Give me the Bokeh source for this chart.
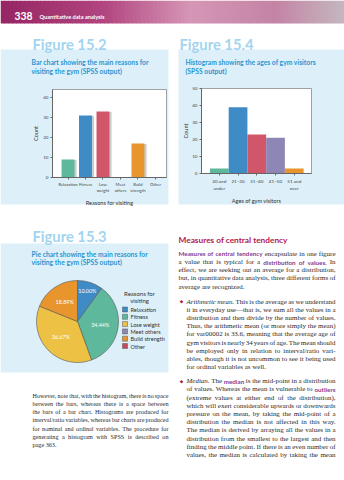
import os, glob
import numpy as np
from PIL import ImageFont
from bokeh.plotting import figure
from bokeh.models import Range1d, FixedTicker, LinearAxis
from bokeh.core.properties import value
from bokeh.embed import file_html
from bokeh.resources import INLINE

# ---------------- data ----------------
reasons = ["Relaxation", "Fitness", "Lose weight", "Meet others", "Build strength", "Other"]
reason_counts = [9, 31, 33, 0, 17, 0]
bar_colors = ["#5DB89C", "#3F8BC5", "#D2566A", "#8E86B5", "#E8952E", "#C9485E"]
bar_ticks = [0, 10, 20, 30, 40]

age_groups = ["20 and under", "21–30", "31–40", "41–50", "51 and over"]
age_counts = [3, 39, 23, 21, 3]
hist_colors = ["#5DB89C", "#3F8BC5", "#D2566A", "#8E86B5", "#E8952E"]
hist_ticks = [0, 10, 20, 30, 40, 50]

pie_colors = ["#3F8BC5", "#5DB89C", "#EDC244", "#8E86B5", "#E8952E", "#C9485E"]

page_no = "338"
running_head = "Quantitative data analysis"
fig_titles = ["Figure 15.2", "Figure 15.3", "Figure 15.4"]
bar_sub = ["Bar chart showing the main reasons for", "visiting the gym (SPSS output)"]
pie_sub = ["Pie chart showing the main reasons for", "visiting the gym (SPSS output)"]
hist_sub = ["Histogram showing the ages of gym visitors", "(SPSS output)"]
bar_xlabel = "Reasons for visiting"
hist_xlabel = "Ages of gym visitors"
count_label = "Count"
legend_title = ["Reasons for", "visiting"]
heading = "Measures of central tendency"

left_par = [
    "However, note that, with the histogram, there is no space",
    "between the bars, whereas there is a space between",
    "the bars of a bar chart. Histograms are produced for",
    "interval/ratio variables, whereas bar charts are produced",
    "for nominal and ordinal variables. The procedure for",
    "generating a histogram with SPSS is described on",
    "page 363.",
]
intro_par = [
    [("Measures of central tendency", "key"), ("encapsulate in one figure", "body")],
    [("a value that is typical for a", "body"), ("distribution of values.", "key"), ("In", "body")],
    "effect, we are seeking out an average for a distribution,",
    "but, in quantitative data analysis, three different forms of",
    "average are recognized.",
]
mean_par = [
    [("Arithmetic mean.", "ital"), ("This is the average as we understand", "body")],
    "it in everyday use—that is, we sum all the values in a",
    "distribution and then divide by the number of values.",
    "Thus, the arithmetic mean (or more simply the mean)",
    "for var00002 is 33.6, meaning that the average age of",
    "gym visitors is nearly 34 years of age. The mean should",
    "be employed only in relation to interval/ratio vari-",
    "ables, though it is not uncommon to see it being used",
    "for ordinal variables as well.",
]
median_par = [
    [("Median.", "ital"), ("The", "body"), ("median", "key"), ("is the mid-point in a distribution", "body")],
    [("of values. Whereas the mean is vulnerable to", "body"), ("outliers", "key")],
    "(extreme values at either end of the distribution),",
    "which will exert considerable upwards or downwards",
    "pressure on the mean, by taking the mid-point of a",
    "distribution the median is not affected in this way.",
    "The median is derived by arraying all the values in a",
    "distribution from the smallest to the largest and then",
    "finding the middle point. If there is an even number of",
    "values, the median is calculated by taking the mean",
]

# ---------------- styles ----------------
PW, PH = 344, 480
PANEL = "#DDF0FA"
TITLE_C = "#A3D4EF"
SUB_C = "#2995D0"
HEAD_C = "#B2184E"
KEY_C = "#8B3A8E"
BODY_C = "#2A2A2A"
AX_C = "#666666"

_fc = {}
def _font(fname):
    if fname not in _fc:
        path = None
        for root in ("/usr/share/fonts", "/usr/local/share/fonts",
                     os.path.expanduser("~/.fonts"), os.path.expanduser("~/.local/share/fonts")):
            hits = glob.glob(os.path.join(root, "**", fname), recursive=True)
            if hits:
                path = hits[0]
                break
        try:
            _fc[fname] = ImageFont.truetype(path, 200) if path else None
        except Exception:
            _fc[fname] = None
    return _fc[fname]

def text_w(s, fname, size, avg=0.5):
    f = _font(fname)
    if f is None:
        return len(s) * avg * size
    return f.getlength(s) * size / 200.0

ST = {
    "body": ("Liberation Serif", "normal", "LiberationSerif-Regular.ttf", 1.0, BODY_C, 0.45),
    "ital": ("Liberation Serif", "italic", "LiberationSerif-Italic.ttf", 1.0, BODY_C, 0.43),
    "key": ("Lato", "bold", "Lato-Bold.ttf", 0.9, KEY_C, 0.52),
}

def toks_of(line):
    segs = [(line, "body")] if isinstance(line, str) else line
    return [(w, st) for txt, st in segs for w in txt.split()]

def word_w(w, st, size):
    fam, sty, fn, sc, col, avg = ST[st]
    return text_w(w, fn, size * sc, avg)

def nat_w(toks, size):
    return sum(word_w(w, st, size) for w, st in toks) + (len(toks) - 1) * word_w(" ", "body", size)

def fit_body(blocks):
    ratios = []
    for lines, W, jl in blocks:
        for i, ln in enumerate(lines):
            if i == len(lines) - 1 and not jl:
                continue
            ratios.append(W / nat_w(toks_of(ln), 1.0))
    return float(np.percentile(ratios, 25))

def fit_size(s, fname, target, avg=0.5):
    return target / text_w(s, fname, 1.0, avg)

# ---------------- page figure ----------------
p = figure(width=PW, height=PH, x_range=Range1d(0, PW), y_range=Range1d(PH, 0),
           x_axis_location=None, y_axis_location=None, toolbar_location=None,
           output_backend="svg", min_border=0, outline_line_color=None,
           background_fill_color="white", border_fill_color="white")
p.grid.visible = False

def draw_block(lines, x0, W, ys, size, justify_last=False):
    groups = {}
    sp = word_w(" ", "body", size)
    for i, (ln, y) in enumerate(zip(lines, ys)):
        toks = toks_of(ln)
        ws = [word_w(w, st, size) for w, st in toks]
        last = i == len(lines) - 1
        if (not last or justify_last) and len(toks) > 1:
            gap = max((W - sum(ws)) / (len(toks) - 1), 0.35 * sp)
        else:
            gap = sp
        x = x0
        for (w, st), wd in zip(toks, ws):
            g = groups.setdefault(st, {"x": [], "y": [], "t": []})
            g["x"].append(x); g["y"].append(y); g["t"].append(w)
            x += wd + gap
    for st, g in groups.items():
        fam, sty, fn, sc, col, avg = ST[st]
        p.text(x=g["x"], y=g["y"], text=g["t"], text_font=value(fam), text_font_style=sty,
               text_font_size=f"{size * sc:.2f}px", text_color=col,
               text_baseline="middle", text_align="left")

def label(x, y, s, size, color, font="Lato", style="bold", align="left"):
    p.text(x=[x], y=[y], text=[s], text_font=value(font), text_font_style=style,
           text_font_size=f"{size:.2f}px", text_color=color, text_baseline="middle", text_align=align)

def two_line(s):
    parts = s.rsplit(" ", 1)
    return s if len(parts) == 1 else parts[0] + "\n" + parts[1]

def chart_ranges(name, box, xlim, ylim):
    l, t, r, b = box
    kx = (r - l) / (xlim[1] - xlim[0])
    xs = xlim[0] - l / kx
    p.extra_x_ranges[name + "_x"] = Range1d(xs, xs + PW / kx)
    ky = (b - t) / (ylim[1] - ylim[0])
    p.extra_y_ranges[name + "_y"] = Range1d(ylim[0] - (PH - b) / ky, ylim[1] + t / ky)
    p.quad(left=xlim[0], right=xlim[1], bottom=ylim[0], top=ylim[1],
           x_range_name=name + "_x", y_range_name=name + "_y",
           fill_color="white", line_color="#8A8A8A", line_width=0.8)

def style_axis(ax, label_standoff, tick_size):
    ax.axis_line_color = AX_C
    ax.major_tick_line_color = AX_C
    ax.minor_tick_line_color = None
    ax.major_tick_in = 0
    ax.major_tick_out = 2
    ax.major_label_text_font = "Lato"
    ax.major_label_text_font_size = tick_size
    ax.major_label_text_color = "#444444"
    ax.major_label_standoff = 2
    ax.axis_label_text_font = "Lato"
    ax.axis_label_text_font_size = "5.6px"
    ax.axis_label_text_font_style = "normal"
    ax.axis_label_text_color = "#333333"
    ax.axis_label_standoff = label_standoff

def chart_axes(name, box, xlim, ylim, xticks, labels, yticks, xlabel, ylabel, ystand, xsize):
    l, t, r, b = box
    ya = LinearAxis(y_range_name=name + "_y", fixed_location=l, bounds=tuple(ylim),
                    ticker=FixedTicker(ticks=yticks), axis_label=ylabel)
    style_axis(ya, ystand, "4.6px")
    p.add_layout(ya, "left")
    xa = LinearAxis(x_range_name=name + "_x", fixed_location=b, bounds=tuple(xlim),
                    ticker=FixedTicker(ticks=xticks), axis_label=xlabel,
                    major_label_overrides={i: two_line(s) for i, s in enumerate(labels)})
    style_axis(xa, 3, xsize)
    p.add_layout(xa, "below")

# ---------------- header ----------------
stops = [(0.0, (150, 38, 100)), (0.3, (178, 70, 128)), (0.55, (214, 150, 182)),
         (0.8, (196, 132, 165)), (1.0, (196, 184, 192))]
hx = np.linspace(0, PW, 87)
hcols = []
for a, b in zip(hx[:-1], hx[1:]):
    u = (a + b) / 2 / PW
    for (u0, c0), (u1, c1) in zip(stops[:-1], stops[1:]):
        if u0 <= u <= u1:
            k = (u - u0) / (u1 - u0)
            hcols.append("#%02x%02x%02x" % tuple(int(c0[j] + (c1[j] - c0[j]) * k) for j in range(3)))
            break
p.quad(left=hx[:-1], right=hx[1:] + 0.5, top=0, bottom=23, color=hcols, line_color=None)
label(14, 15.5, page_no, fit_size(page_no, "Lato-Bold.ttf", 18), "white")
label(39, 16, running_head, fit_size(running_head, "Lato-Bold.ttf", 65), "white")

# ---------------- panels & titles ----------------
p.quad(left=[0, 178, 0], right=[168, PW, 168], top=[49, 49, 243], bottom=[204, 204, 372],
       color=PANEL, line_color=None)
TSIZE = fit_size(fig_titles[0], "Lato-Bold.ttf", 74)
SSIZE = fit_size(bar_sub[0], "Lato-Bold.ttf", 117)
label(32, 43.5, fig_titles[0], TSIZE, TITLE_C)
label(32, 235, fig_titles[1], TSIZE, TITLE_C)
label(179, 43.5, fig_titles[2], TSIZE, TITLE_C)
label(31, 61.5, bar_sub[0], SSIZE, SUB_C)
label(31, 70, bar_sub[1], SSIZE, SUB_C)
label(185, 61.5, hist_sub[0], SSIZE, SUB_C)
label(185, 70, hist_sub[1], SSIZE, SUB_C)
label(31, 253.3, pie_sub[0], SSIZE, SUB_C)
label(31, 261.7, pie_sub[1], SSIZE, SUB_C)

# ---------------- bar chart ----------------
BBOX = (52, 89, 166, 177)
BX, BY = (-0.886, 5.63), (0, 44)
chart_ranges("bar", BBOX, BX, BY)
idx = list(range(len(reasons)))
p.vbar(x=[i + 0.12 for i in idx], top=[max(c - 0.3, 0) for c in reason_counts], width=0.74,
       color="#C8CCD0", line_color=None, x_range_name="bar_x", y_range_name="bar_y")
p.vbar(x=idx, top=reason_counts, width=0.74, color=bar_colors, line_color=None,
       x_range_name="bar_x", y_range_name="bar_y")
chart_axes("bar", BBOX, BX, BY, idx, reasons, bar_ticks, bar_xlabel, count_label, 1, "4.2px")

# ---------------- histogram ----------------
HBOX = (201, 88, 311, 173)
HX, HY = (-0.95, 4.92), (0, 50)
chart_ranges("hist", HBOX, HX, HY)
hidx = list(range(len(age_groups)))
p.vbar(x=hidx, top=age_counts, width=1.0, color=hist_colors, line_color=None,
       x_range_name="hist_x", y_range_name="hist_y")
chart_axes("hist", HBOX, HX, HY, hidx, age_groups, hist_ticks, hist_xlabel, count_label, 0, "4.6px")

# ---------------- pie ----------------
p.extra_y_ranges["up"] = Range1d(0, PH)
CX, CY, R = 77, PH - 321, 41
total = float(sum(reason_counts))
fr = np.array(reason_counts) / total
cum = np.concatenate([[0], np.cumsum(fr)])
nz = [i for i in idx if reason_counts[i] > 0]
p.wedge(x=CX, y=CY, radius=R, direction="clock",
        start_angle=[np.pi / 2 - 2 * np.pi * cum[i] for i in nz],
        end_angle=[np.pi / 2 - 2 * np.pi * cum[i + 1] for i in nz],
        fill_color=[pie_colors[i] for i in nz], line_color="#555555", line_width=0.6,
        y_range_name="up")
lx, ly, lt = [], [], []
for i in nz:
    mid = np.pi / 2 - 2 * np.pi * (cum[i] + fr[i] / 2)
    rr = R * (0.78 if fr[i] < 0.15 else 0.56)
    lx.append(CX + rr * np.cos(mid)); ly.append(CY + rr * np.sin(mid))
    lt.append(f"{100 * fr[i]:.2f}%")
p.text(x=lx, y=ly, text=lt, text_font=value("Lato"), text_font_size="5.4px", y_range_name="up",
       text_color="white", text_align="center", text_baseline="middle")

# legend (swatches + labels from the category / colour arrays)
leg_y = [309 + 7.3 * i for i in range(len(reasons))]
p.rect(x=124.5, y=leg_y, width=5, height=5, fill_color=pie_colors,
       line_color="#555555", line_width=0.5)
p.text(x=130, y=leg_y, text=reasons, text_font=value("Lato"), text_font_size="5.6px",
       text_color="#333333", text_align="left", text_baseline="middle")
p.text(x=[139, 139], y=[293, 300], text=legend_title, text_font=value("Lato"),
       text_font_size="6px", text_color="#333333", text_align="center", text_baseline="middle")

# ---------------- body text ----------------
LFS = fit_body([(left_par, 136, False)])
draw_block(left_par, 32, 136, [395 + 8.33 * i for i in range(len(left_par))], LFS)

label(178, 239.3, heading, fit_size(heading, "Lato-Bold.ttf", 109), HEAD_C)
RFS = fit_body([(intro_par, 157, False), (mean_par, 149, False), (median_par, 149, True)])
STEP = 8.2
y_intro = [253.3 + STEP * i for i in range(len(intro_par))]
y_mean = [301 + STEP * i for i in range(len(mean_par))]
y_med = [380.6 + STEP * i for i in range(len(median_par))]
draw_block(intro_par, 178, 157, y_intro, RFS)
draw_block(mean_par, 186, 149, y_mean, RFS)
draw_block(median_par, 186, 149, y_med, RFS, justify_last=True)
p.text(x=[181, 181], y=[y_mean[0], y_med[0]], text=["◆", "◆"], text_font=value("DejaVu Sans"),
       text_font_size="4.5px", text_color=HEAD_C, text_align="center", text_baseline="middle")

open("out.html", "w").write(file_html(p, INLINE))
